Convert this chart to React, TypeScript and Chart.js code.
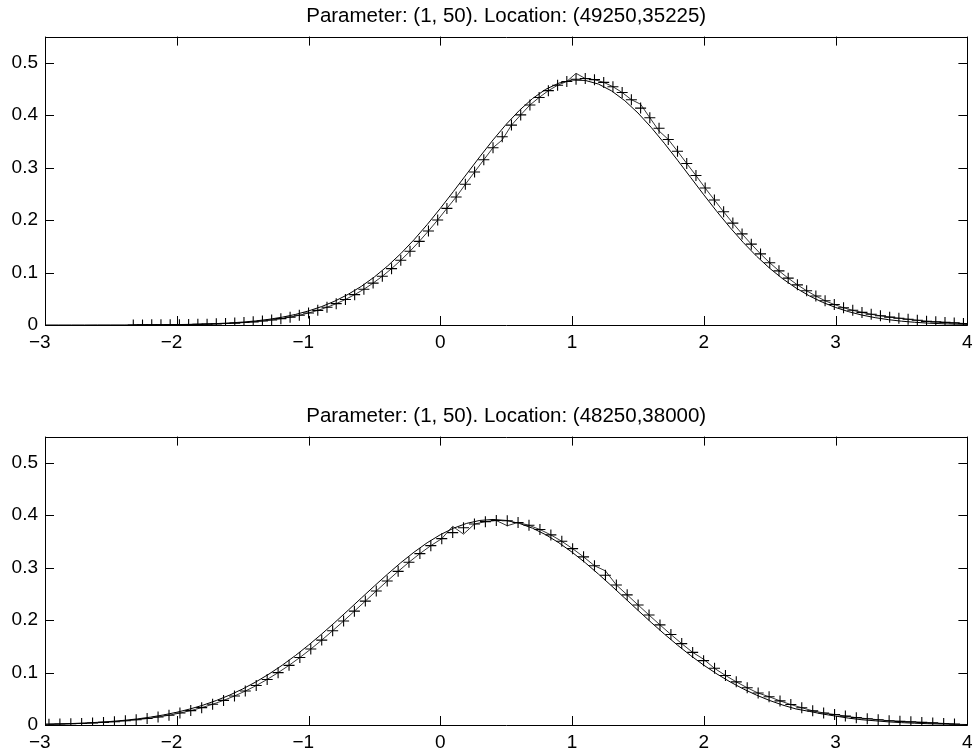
import React, { useEffect, useRef } from 'react';
import { Chart, registerables } from 'chart.js';

Chart.register(...registerables);

const FONT = '"Liberation Sans", Arial, Helvetica, sans-serif';

const xTickValues = [-3, -2, -1, 0, 1, 2, 3, 4];
const yTickValues = [0, 0.1, 0.2, 0.3, 0.4, 0.5];

const titleTop = 'Parameter: (1, 50). Location: (49250,35225)';
const titleBottom = 'Parameter: (1, 50). Location: (48250,38000)';

// x positions of the smooth (solid) curves
const solidX = [
  -3.0, -2.9, -2.8, -2.7, -2.6, -2.5, -2.4, -2.3, -2.2, -2.1,
  -2.0, -1.9, -1.8, -1.7, -1.6, -1.5, -1.4, -1.3, -1.2, -1.1,
  -1.0, -0.9, -0.8, -0.7, -0.6, -0.5, -0.4, -0.3, -0.2, -0.1,
  0.0, 0.1, 0.2, 0.3, 0.4, 0.5, 0.6, 0.7, 0.8, 0.9,
  1.0, 1.1, 1.2, 1.3, 1.4, 1.5, 1.6, 1.7, 1.8, 1.9,
  2.0, 2.1, 2.2, 2.3, 2.4, 2.5, 2.6, 2.7, 2.8, 2.9,
  3.0, 3.1, 3.2, 3.3, 3.4, 3.5, 3.6, 3.7, 3.8, 3.9,
  4.0,
];

const topSolidY = [
  0.0000, 0.0000, 0.0000, 0.0000, 0.0001, 0.0001, 0.0001, 0.0002, 0.0003, 0.0005,
  0.0008, 0.0012, 0.0018, 0.0027, 0.0039, 0.0056, 0.0078, 0.0109, 0.0149, 0.0201,
  0.0268, 0.0352, 0.0456, 0.0584, 0.0736, 0.0917, 0.1125, 0.1361, 0.1625, 0.1914,
  0.2224, 0.2548, 0.2879, 0.3210, 0.3529, 0.3827, 0.4093, 0.4319, 0.4495, 0.4613,
  0.4671, 0.4664, 0.4595, 0.4464, 0.4278, 0.4043, 0.3770, 0.3466, 0.3144, 0.2813,
  0.2482, 0.2160, 0.1855, 0.1571, 0.1312, 0.1081, 0.0878, 0.0704, 0.0556, 0.0434,
  0.0334, 0.0253, 0.0189, 0.0140, 0.0102, 0.0073, 0.0052, 0.0036, 0.0025, 0.0017,
  0.0011,
];

const bottomSolidY = [
  0.0015, 0.0020, 0.0028, 0.0038, 0.0051, 0.0068, 0.0089, 0.0116, 0.0150, 0.0192,
  0.0243, 0.0305, 0.0379, 0.0467, 0.0569, 0.0687, 0.0821, 0.0972, 0.1140, 0.1324,
  0.1523, 0.1735, 0.1957, 0.2187, 0.2420, 0.2652, 0.2878, 0.3095, 0.3295, 0.3475,
  0.3629, 0.3753, 0.3845, 0.3901, 0.3920, 0.3901, 0.3845, 0.3753, 0.3629, 0.3475,
  0.3295, 0.3095, 0.2878, 0.2652, 0.2420, 0.2187, 0.1957, 0.1735, 0.1523, 0.1324,
  0.1140, 0.0972, 0.0821, 0.0687, 0.0569, 0.0467, 0.0379, 0.0305, 0.0260, 0.0210,
  0.0170, 0.0130, 0.0100, 0.0080, 0.0060, 0.0045, 0.0034, 0.0025, 0.0018, 0.0013,
  0.0009,
];

// '+' markers, top panel
const topCrossX = [
  -2.33, -2.26, -2.19, -2.12, -2.05, -1.98, -1.91, -1.84, -1.77, -1.70,
  -1.63, -1.56, -1.49, -1.42, -1.35, -1.28, -1.21, -1.14, -1.07, -1.00,
  -0.93, -0.86, -0.79, -0.72, -0.65, -0.58, -0.51, -0.44, -0.37, -0.30,
  -0.23, -0.16, -0.09, -0.02, 0.05, 0.12, 0.19, 0.26, 0.33, 0.40,
  0.47, 0.54, 0.61, 0.68, 0.75, 0.82, 0.89, 0.96, 1.03, 1.10,
  1.17, 1.24, 1.31, 1.38, 1.45, 1.52, 1.59, 1.66, 1.73, 1.80,
  1.87, 1.94, 2.01, 2.08, 2.15, 2.22, 2.29, 2.36, 2.43, 2.50,
  2.57, 2.64, 2.71, 2.78, 2.85, 2.92, 2.99, 3.06, 3.13, 3.20,
  3.27, 3.34, 3.41, 3.48, 3.55, 3.62, 3.69, 3.76, 3.83, 3.90,
  3.97,
];

const topCrossY = [
  0.0001, 0.0002, 0.0003, 0.0004, 0.0005, 0.0007, 0.0009, 0.0012, 0.0016, 0.0022,
  0.0028, 0.0036, 0.0047, 0.0060, 0.0076, 0.0096, 0.0121, 0.0150, 0.0186, 0.0229,
  0.0279, 0.0338, 0.0407, 0.0487, 0.0579, 0.0682, 0.0799, 0.0930, 0.1075, 0.1234,
  0.1407, 0.1594, 0.1793, 0.2003, 0.2224, 0.2440, 0.2683, 0.2918, 0.3151, 0.3381,
  0.3590, 0.3812, 0.4007, 0.4195, 0.4339, 0.4469, 0.4572, 0.4645, 0.4688, 0.4700,
  0.4679, 0.4627, 0.4545, 0.4434, 0.4297, 0.4136, 0.3953, 0.3753, 0.3539, 0.3314,
  0.3081, 0.2851, 0.2612, 0.2384, 0.2159, 0.1943, 0.1737, 0.1542, 0.1356, 0.1187,
  0.1033, 0.0893, 0.0766, 0.0653, 0.0552, 0.0463, 0.0390, 0.0330, 0.0280, 0.0240,
  0.0205, 0.0175, 0.0150, 0.0130, 0.0110, 0.0090, 0.0070, 0.0060, 0.0050, 0.0040,
  0.0030,
];

// thin jagged line through the markers, top panel
const topLineY = [
  0.0001, 0.0002, 0.0003, 0.0004, 0.0005, 0.0007, 0.0009, 0.0012, 0.0016, 0.0022,
  0.0028, 0.0036, 0.0047, 0.0060, 0.0076, 0.0096, 0.0121, 0.0150, 0.0186, 0.0229,
  0.0279, 0.0338, 0.0407, 0.0487, 0.0579, 0.0682, 0.0799, 0.0930, 0.1075, 0.1234,
  0.1407, 0.1594, 0.1793, 0.2003, 0.2224, 0.2440, 0.2683, 0.2918, 0.3151, 0.3381,
  0.3530, 0.3812, 0.4007, 0.4195, 0.4339, 0.4469, 0.4572, 0.4645, 0.4800, 0.4700,
  0.4679, 0.4627, 0.4545, 0.4434, 0.4297, 0.4210, 0.3953, 0.3700, 0.3539, 0.3314,
  0.3081, 0.2851, 0.2612, 0.2384, 0.2159, 0.1943, 0.1737, 0.1542, 0.1356, 0.1187,
  0.1033, 0.0893, 0.0766, 0.0653, 0.0552, 0.0463, 0.0390, 0.0330, 0.0280, 0.0240,
  0.0205, 0.0175, 0.0150, 0.0130, 0.0110, 0.0090, 0.0070, 0.0060, 0.0050, 0.0040,
  0.0030,
];

// '+' markers, bottom panel
const bottomCrossX = [
  -2.970, -2.887, -2.804, -2.722, -2.639, -2.556, -2.473, -2.390, -2.308, -2.225,
  -2.142, -2.059, -1.976, -1.894, -1.811, -1.728, -1.645, -1.562, -1.480, -1.397,
  -1.314, -1.231, -1.148, -1.066, -0.983, -0.900, -0.817, -0.734, -0.652, -0.569,
  -0.486, -0.403, -0.320, -0.238, -0.155, -0.072, 0.011, 0.094, 0.176, 0.259,
  0.342, 0.425, 0.508, 0.590, 0.673, 0.756, 0.839, 0.922, 1.004, 1.087,
  1.170, 1.253, 1.336, 1.418, 1.501, 1.584, 1.667, 1.750, 1.832, 1.915,
  1.998, 2.081, 2.164, 2.246, 2.329, 2.412, 2.495, 2.578, 2.660, 2.743,
  2.826, 2.909, 2.992, 3.074, 3.157, 3.240, 3.323, 3.406, 3.488, 3.571,
  3.654, 3.737, 3.820, 3.902,
];

const bottomCrossY = [
  0.0014, 0.0018, 0.0024, 0.0030, 0.0039, 0.0050, 0.0063, 0.0080, 0.0099, 0.0123,
  0.0152, 0.0187, 0.0228, 0.0275, 0.0331, 0.0395, 0.0469, 0.0553, 0.0647, 0.0752,
  0.0869, 0.0998, 0.1138, 0.1287, 0.1448, 0.1619, 0.1798, 0.1983, 0.2171, 0.2363,
  0.2556, 0.2745, 0.2930, 0.3104, 0.3269, 0.3420, 0.3554, 0.3669, 0.3761, 0.3832,
  0.3878, 0.3899, 0.3894, 0.3863, 0.3808, 0.3728, 0.3625, 0.3503, 0.3363, 0.3207,
  0.3037, 0.2857, 0.2670, 0.2482, 0.2289, 0.2097, 0.1909, 0.1726, 0.1552, 0.1385,
  0.1227, 0.1081, 0.0945, 0.0823, 0.0710, 0.0609, 0.0540, 0.0460, 0.0390, 0.0330,
  0.0270, 0.0230, 0.0200, 0.0170, 0.0140, 0.0120, 0.0100, 0.0080, 0.0070, 0.0060,
  0.0050, 0.0040, 0.0030, 0.0020,
];

// thin jagged line through the markers, bottom panel
const bottomLineY = [
  0.0014, 0.0018, 0.0024, 0.0030, 0.0039, 0.0050, 0.0063, 0.0080, 0.0099, 0.0123,
  0.0152, 0.0187, 0.0228, 0.0275, 0.0331, 0.0395, 0.0469, 0.0553, 0.0647, 0.0752,
  0.0869, 0.0998, 0.1138, 0.1287, 0.1448, 0.1619, 0.1798, 0.1983, 0.2171, 0.2363,
  0.2556, 0.2745, 0.2930, 0.3104, 0.3269, 0.3420, 0.3554, 0.3790, 0.3640, 0.3832,
  0.3878, 0.3899, 0.3800, 0.3863, 0.3808, 0.3728, 0.3625, 0.3503, 0.3363, 0.3207,
  0.3037, 0.2940, 0.2670, 0.2482, 0.2289, 0.2097, 0.1909, 0.1726, 0.1552, 0.1385,
  0.1255, 0.1081, 0.0945, 0.0823, 0.0710, 0.0609, 0.0540, 0.0460, 0.0390, 0.0330,
  0.0270, 0.0230, 0.0200, 0.0170, 0.0140, 0.0120, 0.0100, 0.0080, 0.0070, 0.0060,
  0.0050, 0.0040, 0.0030, 0.0020,
];

const TICK_LEN = 9;

const framePlugin = {
  id: 'matlabFrame',
  afterDraw(chart: any) {
    const { ctx, chartArea, scales } = chart;
    const { left, right, top, bottom } = chartArea;
    const xs = scales.x;
    const ys = scales.y;
    ctx.save();
    ctx.strokeStyle = '#000';
    ctx.lineWidth = 1;
    ctx.beginPath();
    ctx.rect(Math.round(left) + 0.5, Math.round(top) + 0.5, Math.round(right - left), Math.round(bottom - top));
    ctx.stroke();
    ctx.beginPath();
    for (const t of xs.ticks) {
      const px = Math.round(xs.getPixelForValue(t.value)) + 0.5;
      ctx.moveTo(px, bottom);
      ctx.lineTo(px, bottom - TICK_LEN);
      ctx.moveTo(px, top);
      ctx.lineTo(px, top + TICK_LEN);
    }
    for (const t of ys.ticks) {
      const py = Math.round(ys.getPixelForValue(t.value)) + 0.5;
      ctx.moveTo(left, py);
      ctx.lineTo(left + TICK_LEN, py);
      ctx.moveTo(right, py);
      ctx.lineTo(right - TICK_LEN, py);
    }
    ctx.stroke();
    ctx.restore();
  },
};

function zeroPadding(s: any) {
  s.paddingLeft = 0;
  s.paddingRight = 0;
  s.paddingTop = 0;
  s.paddingBottom = 0;
}

function pts(xs: number[], ys: number[]) {
  return xs.map((x, i) => ({ x, y: ys[i] }));
}

function buildConfig(
  title: string,
  sX: number[],
  sY: number[],
  cX: number[],
  cY: number[],
  lY: number[]
): any {
  return {
    type: 'scatter',
    data: {
      datasets: [
        {
          data: pts(sX, sY),
          showLine: true,
          borderColor: '#000',
          backgroundColor: '#000',
          borderWidth: 1,
          pointRadius: 0,
          pointHoverRadius: 0,
        },
        {
          data: pts(cX, lY),
          showLine: true,
          borderColor: '#000',
          backgroundColor: '#000',
          borderWidth: 0.8,
          pointRadius: 0,
          pointHoverRadius: 0,
        },
        {
          data: pts(cX, cY),
          showLine: false,
          pointStyle: 'cross',
          pointRadius: 5.5,
          pointHoverRadius: 5.5,
          borderColor: '#000',
          backgroundColor: '#000',
          pointBorderWidth: 1.1,
          borderWidth: 1.1,
        },
      ],
    },
    options: {
      animation: false,
      responsive: false,
      devicePixelRatio: 1,
      events: [],
      layout: { padding: { left: 0, right: 2, top: 0, bottom: 0 } },
      plugins: {
        legend: { display: false },
        tooltip: { enabled: false },
        title: {
          display: true,
          fullSize: false,
          text: title,
          color: '#000',
          font: { family: FONT, size: 20.5, weight: 'normal' },
          padding: { top: 4, bottom: 8 },
        },
      },
      scales: {
        x: {
          type: 'linear',
          min: -3,
          max: 4,
          grid: { display: false, drawTicks: false, tickLength: 0 },
          border: { display: false },
          afterBuildTicks: (s: any) => {
            s.ticks = xTickValues.map((v) => ({ value: v }));
          },
          afterFit: (s: any) => {
            s.height = 26;
            zeroPadding(s);
          },
          ticks: {
            color: '#000',
            font: { family: FONT, size: 19 },
            padding: 6,
            maxRotation: 0,
            minRotation: 0,
            autoSkip: false,
            callback: (v: number) => (v < 0 ? '\u2212' + Math.abs(v) + '\u2007' : String(v)),
          },
        },
        y: {
          type: 'linear',
          min: 0,
          max: 0.55,
          grid: { display: false, drawTicks: false, tickLength: 0 },
          border: { display: false },
          afterBuildTicks: (s: any) => {
            s.ticks = yTickValues.map((v) => ({ value: v }));
          },
          afterFit: (s: any) => {
            s.width = 45;
            zeroPadding(s);
          },
          ticks: {
            color: '#000',
            font: { family: FONT, size: 19 },
            padding: 7,
            autoSkip: false,
            callback: (v: number) => (v === 0 ? '0' : String(Math.round(v * 10) / 10)),
          },
        },
      },
    },
    plugins: [framePlugin],
  };
}

export default function App() {
  const ref1 = useRef<HTMLCanvasElement>(null);
  const ref2 = useRef<HTMLCanvasElement>(null);

  useEffect(() => {
    const c1 = new Chart(
      ref1.current as HTMLCanvasElement,
      buildConfig(titleTop, solidX, topSolidY, topCrossX, topCrossY, topLineY)
    );
    const c2 = new Chart(
      ref2.current as HTMLCanvasElement,
      buildConfig(titleBottom, solidX, bottomSolidY, bottomCrossX, bottomCrossY, bottomLineY)
    );
    return () => {
      c1.destroy();
      c2.destroy();
    };
  }, []);

  return (
    <div
      style={{
        position: 'absolute',
        left: 0,
        top: 0,
        width: 974,
        height: 751,
        overflow: 'hidden',
        background: '#fff',
      }}
    >
      <canvas
        ref={ref1}
        width={974}
        height={351}
        style={{ position: 'absolute', left: 0, top: 0, width: 974, height: 351 }}
      />
      <canvas
        ref={ref2}
        width={974}
        height={351}
        style={{ position: 'absolute', left: 0, top: 400, width: 974, height: 351 }}
      />
    </div>
  );
}
